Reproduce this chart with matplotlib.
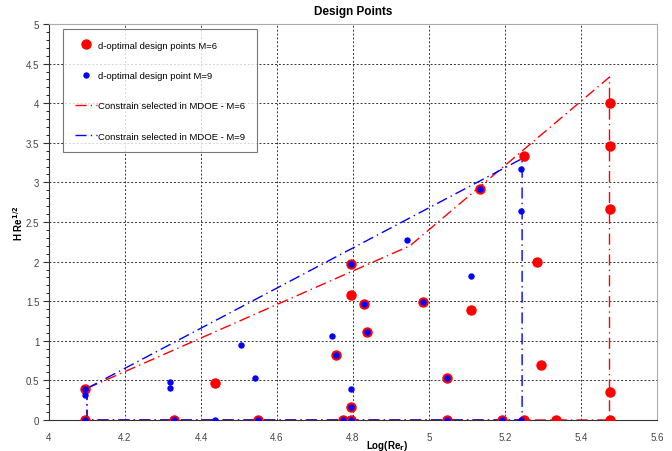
import matplotlib
matplotlib.use("Agg")
import matplotlib.pyplot as plt
from matplotlib.ticker import MultipleLocator

plt.rcParams['font.family'] = ['Liberation Sans', 'DejaVu Sans']

# d-optimal design points M=6 (red)
m6_x = [4.096, 4.096, 4.328, 4.436, 4.550, 4.754, 4.774, 4.794, 4.794, 4.794, 4.794,
        4.830, 4.838, 4.983, 5.048, 5.048, 5.111, 5.135, 5.191, 5.249, 5.249,
        5.283, 5.296, 5.334, 5.476, 5.476, 5.476, 5.476, 5.476]
m6_y = [0.39, 0.0, 0.0, 0.47, 0.0, 0.817, 0.0, 0.0, 0.16, 1.58, 1.97,
        1.47, 1.107, 1.486, 0.53, 0.0, 1.39, 2.92, 0.0, 0.0, 3.33,
        1.995, 0.70, 0.0, 0.0, 0.35, 2.67, 3.46, 4.00]

# d-optimal design points M=9 (blue)
m9_x = [4.096, 4.096, 4.096, 4.319, 4.319, 4.328, 4.436, 4.506, 4.543, 4.550,
        4.744, 4.754, 4.774, 4.794, 4.794, 4.794, 4.794, 4.830, 4.838, 4.943,
        4.983, 5.048, 5.048, 5.111, 5.135, 5.191, 5.243, 5.243, 5.243]
m9_y = [0.39, 0.316, 0.0, 0.48, 0.40, 0.0, 0.0, 0.947, 0.53, 0.0,
        1.06, 0.817, 0.0, 0.0, 0.16, 0.39, 1.97, 1.47, 1.107, 2.27,
        1.486, 0.53, 0.0, 1.82, 2.92, 0.0, 0.0, 2.64, 3.17]

# Constraint regions
c6_x = [4.1, 4.95, 5.475, 5.475, 4.1, 4.1]
c6_y = [0.4, 2.2, 4.33, 0.0, 0.0, 0.4]
c9_x = [4.1, 5.245, 5.245, 4.1, 4.1]
c9_y = [0.4, 3.3, 0.0, 0.0, 0.4]

fig = plt.figure(figsize=(6.72, 4.52), dpi=100)
ax = fig.add_axes([49/672, 1-421/452, (657-49)/672, (421-25)/452])

ax.plot(c6_x, c6_y, color='red', ls=(0, (8, 3, 1, 3)), lw=1.0,
        label='Constrain selected in MDOE - M=6', zorder=2)
ax.plot(c9_x, c9_y, color='blue', ls=(0, (8, 3, 1, 3)), lw=1.0,
        label='Constrain selected in MDOE - M=9', zorder=2)
ax.plot(m6_x, m6_y, 'o', color='red', ms=6.5, mec='red', ls='none',
        label='d-optimal design points M=6', zorder=3)
ax.plot(m9_x, m9_y, 'o', color='blue', ms=3.6, ls='none',
        label='d-optimal design point M=9', zorder=4)

ax.set_xlim(4, 5.6)
ax.set_ylim(0, 5)
ax.yaxis.set_minor_locator(MultipleLocator(0.1))
ax.set_xticks([4, 4.2, 4.4, 4.6, 4.8, 5, 5.2, 5.4, 5.6])
ax.set_xticklabels(['4', '4.2', '4.4', '4.6', '4.8', '5', '5.2', '5.4', '5.6'])
ax.set_yticks([0, 0.5, 1, 1.5, 2, 2.5, 3, 3.5, 4, 4.5, 5])
ax.set_yticklabels(['0', '0.5', '1', '1.5', '2', '2.5', '3', '3.5', '4', '4.5', '5'])
ax.tick_params(axis='both', labelsize=7, colors='#333333', labelcolor='#444444')
ax.tick_params(axis='x', length=0, pad=9)
ax.tick_params(axis='y', which='major', length=4, direction='out', pad=3)
ax.tick_params(axis='y', which='minor', length=2, direction='out')
ax.grid(True, which='major', color='#333333', ls=(0, (2, 2)), lw=0.7)
ax.set_axisbelow(True)

for s in ['left', 'bottom']:
    ax.spines[s].set_color('#333333')
for s in ['top', 'right']:
    ax.spines[s].set_color('#aaaaaa')

ax.set_title('Design Points', fontsize=8.5, fontweight='bold', pad=7)
ax.set_xlabel('Log(Re$_\\mathbf{r}$)', fontsize=7, fontweight='bold', va='center')
ax.xaxis.set_label_coords((387-49)/608, (421-446)/396)
ax.set_ylabel('H Re$^{\\mathbf{1/2}}$', fontsize=7, fontweight='bold', va='center')
ax.yaxis.set_label_coords((18-49)/608, 0.5)

handles, labels = ax.get_legend_handles_labels()
order = [2, 3, 0, 1]
leg = ax.legend([handles[i] for i in order], [labels[i] for i in order],
                loc='upper left', bbox_to_anchor=((63-49)/608, (421-30)/396),
                fontsize=6.8, frameon=True, fancybox=False, labelspacing=2.25,
                borderpad=1.25, borderaxespad=0, handlelength=2.3, handletextpad=0.2,
                edgecolor='#555555')
leg.get_frame().set_linewidth(0.8)

fig.savefig('out.png', dpi=100)
